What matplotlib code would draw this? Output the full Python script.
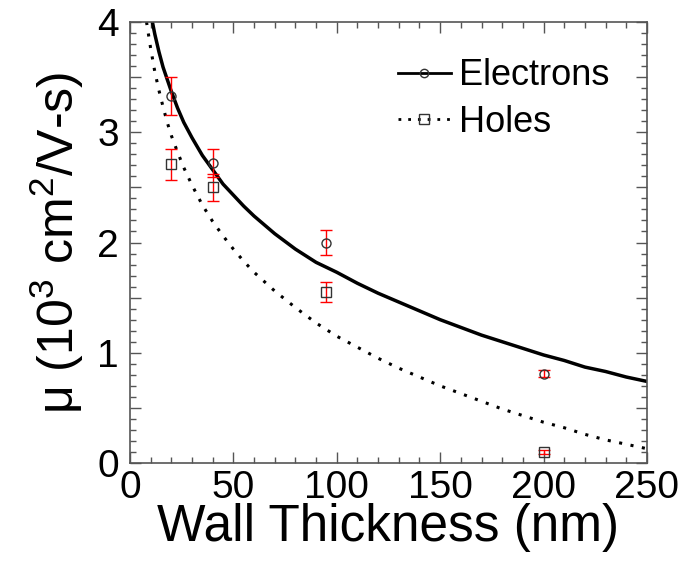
import numpy as np
import matplotlib.pyplot as plt
from matplotlib.ticker import MultipleLocator, FuncFormatter
from matplotlib.lines import Line2D

plt.rcParams['font.family'] = ['Liberation Sans', 'DejaVu Sans']
plt.rcParams['mathtext.default'] = 'regular'

# ============================== DATA ==============================

# measured mobilities [10^3 cm^2/V-s] vs wall thickness [nm]
t_meas = [20, 40, 95, 200]
mu_e = [3.33, 2.72, 2.00, 0.81]
mu_e_err = [0.17, 0.13, 0.11, 0.03]
mu_h = [2.71, 2.50, 1.55, 0.10]
mu_h_err = [0.14, 0.12, 0.09, 0.02]

# model curves
t_fit_e = [10, 12, 14, 16, 18, 20, 23, 26, 30, 35, 40, 45, 50, 55, 60, 70, 80, 90,
           100, 110, 120, 130, 140, 150, 160, 170, 180, 190, 200, 210, 220, 230, 240, 250]
mu_fit_e = [4.08, 3.89, 3.73, 3.59, 3.48, 3.37, 3.22, 3.09, 2.95, 2.79, 2.66, 2.53,
            2.43, 2.33, 2.24, 2.08, 1.94, 1.82, 1.73, 1.63, 1.54, 1.46, 1.38, 1.30,
            1.23, 1.16, 1.10, 1.04, 0.98, 0.93, 0.87, 0.83, 0.78, 0.74]
t_fit_h = [8, 10, 12, 14, 16, 18, 20, 23, 26, 30, 35, 40, 45, 50, 55, 60, 70, 80, 90,
           100, 110, 120, 130, 140, 150, 160, 170, 180, 190, 200, 210, 220, 230, 240, 250]
mu_fit_h = [4.00, 3.76, 3.55, 3.38, 3.23, 3.09, 2.97, 2.82, 2.68, 2.52, 2.34, 2.19,
            2.06, 1.94, 1.83, 1.73, 1.56, 1.41, 1.27, 1.15, 1.05, 0.95, 0.86, 0.78,
            0.70, 0.63, 0.56, 0.49, 0.43, 0.37, 0.32, 0.26, 0.21, 0.17, 0.13]

# ============================== PLOT ==============================
fig = plt.figure(figsize=(6.82, 5.63), dpi=100)
ax = fig.add_axes([0.1906, 0.1776, 0.758, 0.7833])

spcol = '#555555'
dotted = (0, (1, 2.8))

ax.plot(t_fit_e, mu_fit_e, '-', color='k', lw=2.5)
ax.plot(t_fit_h, mu_fit_h, linestyle=dotted, color='k', lw=2.2)

ax.errorbar(t_meas, mu_e, yerr=mu_e_err, fmt='o', ms=6.5, mfc='none', mec='#333333',
            mew=1.0, ecolor='red', elinewidth=1.0, capsize=4, capthick=1.0)
ax.errorbar(t_meas, mu_h, yerr=mu_h_err, fmt='s', ms=7, mfc='none', mec='#333333',
            mew=1.0, ecolor='red', elinewidth=1.0, capsize=4, capthick=1.0)

ax.set_xlim(0, 250)
ax.set_ylim(0, 4)

ax.xaxis.set_major_locator(MultipleLocator(50))
ax.xaxis.set_minor_locator(MultipleLocator(10))
ax.yaxis.set_major_locator(MultipleLocator(0.5))
ax.yaxis.set_minor_locator(MultipleLocator(0.1))
ax.yaxis.set_major_formatter(FuncFormatter(lambda v, p: '%d' % v if abs(v - round(v)) < 1e-6 else ''))

ax.tick_params(which='both', direction='in', top=True, right=True, color=spcol, width=1.0)
ax.tick_params(which='major', length=8, labelsize=28)
ax.tick_params(which='minor', length=4)
ax.tick_params(axis='x', pad=5)
ax.tick_params(axis='y', pad=8)
for sp in ax.spines.values():
    sp.set_color(spcol)
    sp.set_linewidth(1.2)

ax.set_xlabel('Wall Thickness (nm)', fontsize=37, labelpad=-2)
ax.set_ylabel('μ (10$^{3}$ cm$^{2}$/V-s)', fontsize=36, labelpad=8)

# legend: fit line with its marker
handles = [Line2D([], [], color='k', lw=2.0, marker='o', ms=6, mfc='none', mec='#333333'),
           Line2D([], [], color='k', lw=2.0, linestyle=(0, (1, 2.5)), marker='s', ms=7,
                  mfc='none', mec='#333333')]
leg = ax.legend(handles, ['Electrons', 'Holes'], loc='upper left', bbox_to_anchor=(0.47, 0.975),
                frameon=False, fontsize=26, handlelength=1.45, handletextpad=0.22,
                labelspacing=0.32, numpoints=1, borderpad=0.2)

plt.savefig('out.png', dpi=100)
